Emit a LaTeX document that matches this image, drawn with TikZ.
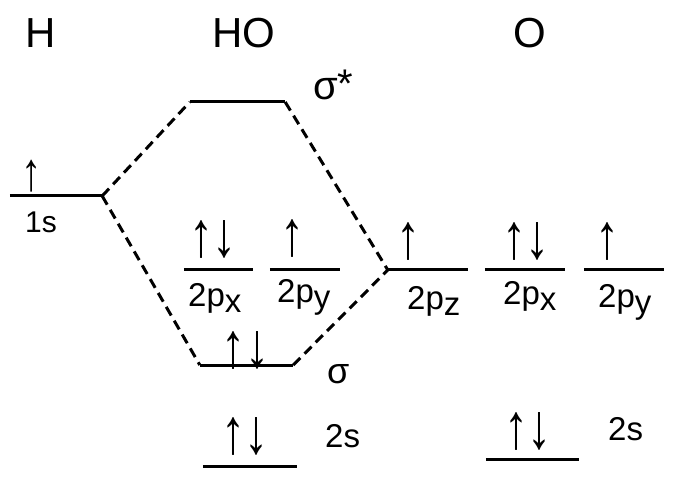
\documentclass[tikz,border=0pt]{standalone}
\usepackage{fontspec}
\setmainfont{Liberation Sans}
\usepackage{tikz}
\usetikzlibrary{positioning}

\newcommand{\orbsub}[1]{\raisebox{-0.3ex}{#1}}
\newcommand{\spinup}{\scalebox{0.75}[1]{↑}}
\newcommand{\spinpair}{\scalebox{0.75}[1]{↑\kern-0.02em↓}}

\begin{document}
\begin{tikzpicture}[
    x=1pt, y=-1pt,
    head/.style={inner sep=0pt, anchor=base west, font=\fontsize{42}{44}\selectfont},
    lab/.style={inner sep=0pt, anchor=base west, font=\fontsize{33}{35}\selectfont},
    spin/.style={inner sep=0pt, font=\fontsize{64}{66}\selectfont},
    lvl/.style={inner sep=0pt, minimum height=0pt, minimum width=#1},
    lvlline/.style={line width=3pt},
    corr/.style={line width=3pt, dash pattern=on 10pt off 6pt}
  ]
    \useasboundingbox (0,0) rectangle (680,494);

    % Headers
    \node[head] (hH)  at (25,48)  {H};
    \node[head] (hHO) at (212,48) {HO};
    \node[head] (hO)  at (513,48) {O};

    % H levels
    \node[lvl=92] (h1s) at (56,196) {};

    % HO levels
    \node[lvl=95] (sstar) at (237.5,102) {};
    \node[lvl=69] (hpx)   at (218.5,270) {};
    \node[lvl=70] (hpy)   at (305,270)   {};
    \node[lvl=93] (sig)   at (246.5,365) {};
    \node[lvl=94] (h2s)   at (250,466)   {};

    % O levels
    \node[lvl=80] (opz) at (428,270)   {};
    \node[lvl=80] (opx) at (525,270)   {};
    \node[lvl=80] (opy) at (624,270)   {};
    \node[lvl=93] (o2s) at (532.5,459) {};

    \foreach \n in {h1s,sstar,hpx,hpy,sig,h2s,opz,opx,opy,o2s}
      \draw[lvlline] (\n.west) -- (\n.east);

    % Correlation lines
    \draw[corr] (h1s.east)   -- (sstar.west);
    \draw[corr] (h1s.east)   -- (sig.west);
    \draw[corr] (sstar.east) -- (opz.west);
    \draw[corr] (sig.east)   -- (opz.west);

    % Electrons
    \node[spin, font=\fontsize{54}{56}\selectfont] (e1s) at (32,176) {\spinup};
    \node[spin] (ehpx) at (213,239)   {\spinpair};
    \node[spin] (ehpy) at (292,238)   {\spinup};
    \node[spin] (esig) at (245.5,350) {\spinpair};
    \node[spin] (eh2s) at (245,436)   {\spinpair};
    \node[spin] (eopz) at (408,241)   {\spinup};
    \node[spin] (eopx) at (526,241)   {\spinpair};
    \node[spin] (eopy) at (607,241)   {\spinup};
    \node[spin] (eo2s) at (528,431)   {\spinpair};

    % Labels
    \node[lab, font=\fontsize{30}{32}\selectfont] (l1s) at (25,233) {1s};
    \node[lab, font=\fontsize{40}{42}\selectfont] (lsstar) at (313,100) {σ\raisebox{0.1ex}{*}};
    \node[lab, font=\fontsize{36}{38}\selectfont] (lsig) at (327,383) {σ};
    \node[lab] (lhpx) at (188,307) {2p\orbsub{x}};
    \node[lab] (lhpy) at (277,303) {2p\orbsub{y}};
    \node[lab] (lh2s) at (325,447) {2s};
    \node[lab] (lopz) at (407,310) {2p\orbsub{z}};
    \node[lab] (lopx) at (503,305) {2p\orbsub{x}};
    \node[lab] (lopy) at (598,308) {2p\orbsub{y}};
    \node[lab] (lo2s) at (608,440) {2s};
\end{tikzpicture}
\end{document}
